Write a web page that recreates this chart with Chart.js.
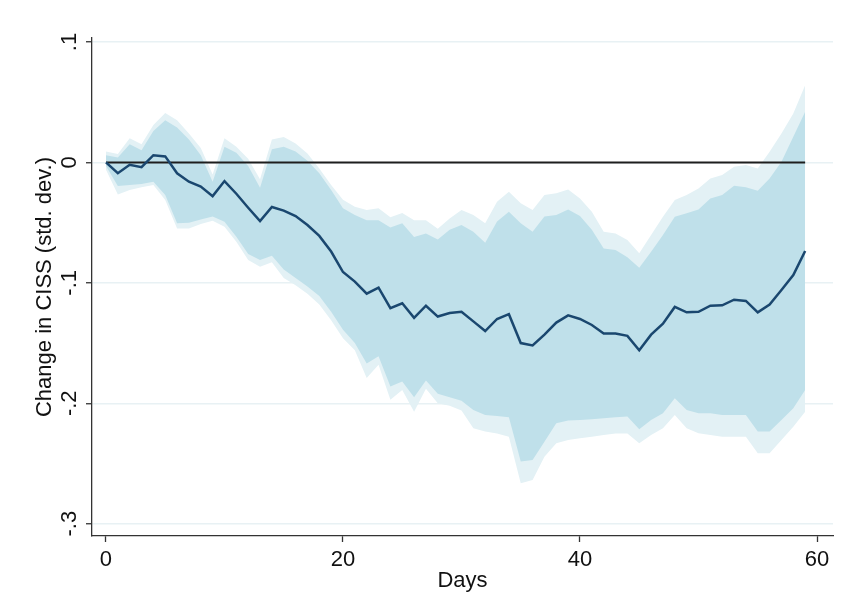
<!DOCTYPE html>
<html>
<head>
<meta charset="utf-8">
<script src="https://cdn.jsdelivr.net/npm/chart.js@4/dist/chart.umd.min.js"></script>
<style>
  body { margin: 0; background: #fff; }
</style>
</head>
<body>
<canvas id="grafico" width="843" height="616"></canvas>
<script>
// Horizon (days after shock)
const days = [
  0, 1, 2, 3, 4, 5, 6, 7, 8, 9, 10, 11, 12, 13, 14, 15, 16, 17, 18, 19,
  20, 21, 22, 23, 24, 25, 26, 27, 28, 29, 30, 31, 32, 33, 34, 35, 36, 37, 38, 39,
  40, 41, 42, 43, 44, 45, 46, 47, 48, 49, 50, 51, 52, 53, 54, 55, 56, 57, 58, 59,
];

// Point estimate
const irf = [
  0, -0.009, -0.002, -0.004, 0.006, 0.005, -0.009, -0.016, -0.020, -0.028,
  -0.0155, -0.026, -0.0376, -0.0487, -0.037, -0.040, -0.0445, -0.052, -0.061, -0.074,
  -0.091, -0.099, -0.109, -0.104, -0.121, -0.117, -0.129, -0.119, -0.128, -0.125,
  -0.124, -0.132, -0.140, -0.130, -0.126, -0.150, -0.152, -0.143, -0.133, -0.127,
  -0.130, -0.135, -0.142, -0.142, -0.144, -0.156, -0.143, -0.134, -0.120, -0.1245,
  -0.124, -0.119, -0.1187, -0.114, -0.115, -0.1245, -0.118, -0.106, -0.0935, -0.0736,
];

// Inner band (darker)
const upper68 = [
  0.006, 0.004, 0.015, 0.010, 0.026, 0.035, 0.029, 0.019, 0.006, -0.016,
  0.013, 0.008, -0.003, -0.021, 0.011, 0.013, 0.009, 0.0014, -0.009, -0.023,
  -0.038, -0.0437, -0.048, -0.048, -0.054, -0.0506, -0.062, -0.059, -0.064, -0.056,
  -0.052, -0.0575, -0.0667, -0.049, -0.041, -0.0506, -0.0575, -0.045, -0.0437, -0.039,
  -0.0445, -0.056, -0.0714, -0.0728, -0.0788, -0.0875, -0.0741, -0.0603, -0.0451, -0.0423,
  -0.039, -0.030, -0.0271, -0.0194, -0.0207, -0.0235, -0.0133, 0.0006, 0.0213, 0.042,
];
const lower68 = [
  -0.003, -0.0196, -0.0188, -0.018, -0.016, -0.027, -0.0506, -0.050, -0.0473, -0.045,
  -0.0492, -0.0617, -0.076, -0.081, -0.0775, -0.089, -0.096, -0.103, -0.111, -0.124,
  -0.139, -0.150, -0.167, -0.161, -0.186, -0.182, -0.195, -0.181, -0.192, -0.195,
  -0.198, -0.2055, -0.2097, -0.2105, -0.2116, -0.2484, -0.247, -0.232, -0.2166, -0.2144,
  -0.2138, -0.2133, -0.2125, -0.2116, -0.211, -0.2216, -0.2138, -0.2083, -0.1959, -0.2055,
  -0.2083, -0.2083, -0.2097, -0.2097, -0.2097, -0.2235, -0.2235, -0.2138, -0.2042, -0.189,
];

// Outer band (lighter)
const upper90 = [
  0.009, 0.007, 0.020, 0.015, 0.031, 0.041, 0.035, 0.024, 0.012, -0.010,
  0.020, 0.013, 0.003, -0.014, 0.019, 0.021, 0.0158, 0.0075, -0.005, -0.0188,
  -0.031, -0.0368, -0.0396, -0.038, -0.0456, -0.042, -0.048, -0.048, -0.055, -0.0465,
  -0.0395, -0.0437, -0.0506, -0.0326, -0.0244, -0.034, -0.0395, -0.027, -0.0257, -0.0224,
  -0.030, -0.041, -0.0575, -0.059, -0.0645, -0.0755, -0.0603, -0.0451, -0.0313, -0.0271,
  -0.0216, -0.0133, -0.0105, -0.0036, -0.0022, -0.005, 0.0089, 0.024, 0.0407, 0.064,
];
const lower90 = [
  -0.006, -0.0266, -0.023, -0.0207, -0.0188, -0.0313, -0.0548, -0.0548, -0.0512, -0.0484,
  -0.0534, -0.0658, -0.081, -0.0866, -0.083, -0.096, -0.102, -0.109, -0.118, -0.131,
  -0.146, -0.156, -0.179, -0.168, -0.197, -0.189, -0.207, -0.188, -0.200, -0.202,
  -0.206, -0.2207, -0.2235, -0.225, -0.2277, -0.2664, -0.2636, -0.2443, -0.2332, -0.2304,
  -0.229, -0.2277, -0.2263, -0.225, -0.225, -0.2332, -0.2263, -0.2207, -0.2097, -0.2207,
  -0.2249, -0.2263, -0.2277, -0.2277, -0.2277, -0.2415, -0.2415, -0.2304, -0.2194, -0.207,
];

// Reference line and axis ticks
const zeroLevel = 0;
const xTicks = [0, 20, 40, 60];
const yTicks = [-0.3, -0.2, -0.1, 0, 0.1];

const pts = (vals) => days.map((d, i) => ({ x: d, y: vals[i] }));

// Stata style labels: ".1", "-.2", "0"
function fmtY(v) {
  if (Math.abs(v) < 1e-9) return '0';
  return v.toFixed(1).replace('0.', '.');
}

Chart.defaults.font.family = '"Liberation Sans", Arial, sans-serif';
Chart.defaults.font.size = 22;
Chart.defaults.color = '#111';

const axisColor = '#333';

const ctx = document.getElementById('grafico').getContext('2d');
const grafico = new Chart(ctx, {
  type: 'line',
  data: {
    datasets: [
      {
        label: 'Response',
        data: pts(irf),
        borderColor: '#1a476f',
        borderWidth: 2.5,
        pointRadius: 0,
        fill: false,
        order: 0,
      },
      {
        label: 'Zero',
        data: [
          { x: days[0], y: zeroLevel },
          { x: days[days.length - 1], y: zeroLevel },
        ],
        borderColor: '#1e1e1e',
        borderWidth: 2,
        pointRadius: 0,
        fill: false,
        order: 1,
      },
      {
        label: 'lower68',
        data: pts(lower68),
        borderColor: 'transparent',
        borderWidth: 0,
        pointRadius: 0,
        fill: false,
        order: 2,
      },
      {
        label: 'upper68',
        data: pts(upper68),
        borderColor: 'transparent',
        borderWidth: 0,
        pointRadius: 0,
        fill: 2,
        backgroundColor: '#bfe0ea',
        order: 2,
      },
      {
        label: 'lower90',
        data: pts(lower90),
        borderColor: 'transparent',
        borderWidth: 0,
        pointRadius: 0,
        fill: false,
        order: 3,
      },
      {
        label: 'upper90',
        data: pts(upper90),
        borderColor: 'transparent',
        borderWidth: 0,
        pointRadius: 0,
        fill: 4,
        backgroundColor: '#e3f1f5',
        order: 3,
      },
    ],
  },
  options: {
    responsive: false,
    animation: false,
    layout: { padding: { top: 38, right: 10, bottom: 0, left: 0 } },
    plugins: {
      legend: { display: false },
      tooltip: { enabled: false },
    },
    scales: {
      x: {
        type: 'linear',
        min: -1.18,
        max: 61.35,
        afterBuildTicks: (s) => { s.ticks = xTicks.map((v) => ({ value: v })); },
        afterFit: (s) => { s.height = 80; },
        ticks: { padding: 5, maxRotation: 0, callback: (v) => String(v) },
        grid: {
          drawOnChartArea: false,
          tickLength: 6,
          tickColor: axisColor,
          tickWidth: 1.3,
        },
        border: { color: axisColor, width: 1.3 },
        title: {
          display: true,
          text: 'Days',
          padding: { top: 0, bottom: 22 },
        },
      },
      y: {
        min: -0.3102,
        max: 0.1033,
        afterBuildTicks: (s) => { s.ticks = yTicks.map((v) => ({ value: v })); },
        afterFit: (s) => { s.width = 92; },
        ticks: {
          minRotation: 90,
          maxRotation: 90,
          crossAlign: 'center',
          padding: 3,
          callback: (v) => fmtY(v),
        },
        grid: {
          color: '#e8f1f4',
          lineWidth: 1.5,
          tickLength: 6,
          tickColor: axisColor,
          tickWidth: 1.3,
        },
        border: { color: axisColor, width: 1.3 },
        title: {
          display: true,
          text: 'Change in CISS (std. dev.)',
          padding: { top: 32, bottom: 0 },
        },
      },
    },
  },
});
</script>
</body>
</html>
